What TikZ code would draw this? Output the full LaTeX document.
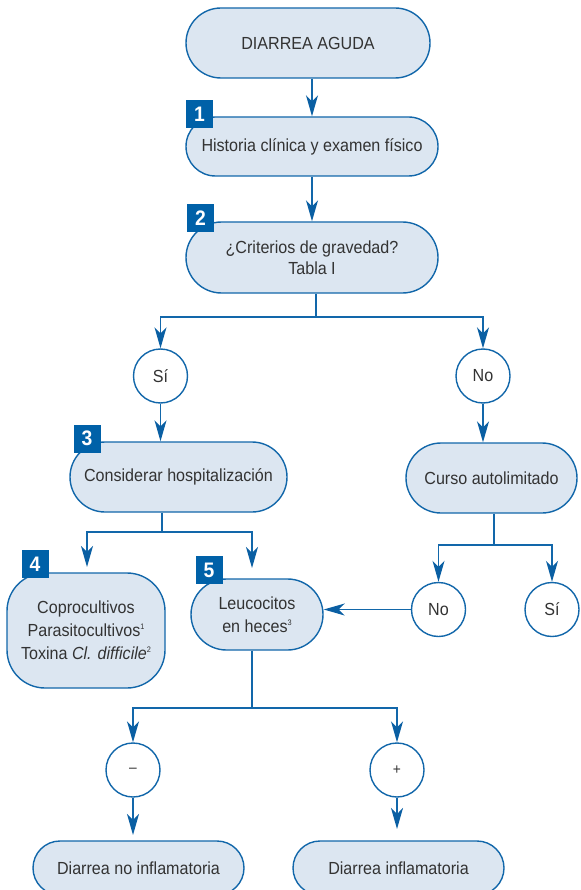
\documentclass[tikz,border=0pt]{standalone}
\usepackage{fontspec}
\setmainfont{Liberation Sans}[FakeStretch=0.92]
\usetikzlibrary{arrows.meta,calc}
\definecolor{lineblue}{HTML}{1267AA}
\definecolor{tipblue}{HTML}{0A5FA3}
\definecolor{boxfill}{HTML}{DCE6F1}
\definecolor{badgeblue}{HTML}{0061A8}
\definecolor{txt}{HTML}{333333}
\tikzset{
  conn/.style={draw=lineblue, line width=1.4pt},
  arr/.style={conn, -{Stealth[length=21pt,width=12pt,inset=6pt,fill=tipblue,color=tipblue]}},
  term/.style={draw=lineblue, line width=1.4pt, fill=boxfill, text=txt, align=center,
    font=\fontsize{17.5}{21}\selectfont, inner sep=0pt},
  decision/.style={circle, draw=lineblue, line width=1.4pt, fill=white, text=txt,
    minimum size=54pt, inner sep=0pt, font=\fontsize{17.5}{21}\selectfont},
  badge/.style={fill=badgeblue, text=white, font=\fontsize{21}{21}\selectfont\bfseries,
    minimum width=27pt, minimum height=28pt, inner sep=0pt}
}
\begin{document}
\begin{tikzpicture}[x=1pt,y=-1pt]
\useasboundingbox (0,0) rectangle (580,890);
% boxes
\node[term, minimum width=244pt, minimum height=70pt, rounded corners=35pt] (d0) at (308,43) {DIARREA AGUDA};
\node[term, minimum width=252pt, minimum height=59pt, rounded corners=29.5pt] (b1) at (312,146.5) {Historia clínica y examen físico};
\node[term, minimum width=252pt, minimum height=71pt, rounded corners=35.5pt] (b2) at (312,257.5) {¿Criterios de gravedad?\\Tabla I};
\node[decision] (si1) at (160.5,376) {Sí};
\node[decision] (no1) at (483,376) {No};
\node[term, minimum width=217pt, minimum height=70pt, rounded corners=35pt] (b3) at (178.5,477) {Considerar hospitalización};
\node[term, minimum width=171pt, minimum height=70pt, rounded corners=35pt] (cu) at (491.5,478) {Curso autolimitado};
\node[term, minimum width=158pt, minimum height=115pt, rounded corners=38pt, font=\fontsize{17.5}{23}\selectfont] (b4) at (86,630.5)
  {Coprocultivos\\Parasitocultivos{\fontsize{8}{8}\selectfont\raisebox{7pt}{1}}\\Toxina \textit{Cl. difficile}{\fontsize{8}{8}\selectfont\raisebox{7pt}{2}}};
\node[term, minimum width=132pt, minimum height=71pt, rounded corners=35.5pt, font=\fontsize{17.5}{23}\selectfont] (b5) at (257,614.5)
  {Leucocitos\\en heces{\fontsize{8}{8}\selectfont\raisebox{7pt}{3}}};
\node[decision] (no2) at (438.5,609.5) {No};
\node[decision] (si2) at (552,609.5) {Sí};
\node[decision, font=\fontsize{15}{15}\selectfont] (neg) at (133,770) {–};
\node[decision, font=\fontsize{15}{15}\selectfont] (pos) at (397,770) {+};
\node[term, minimum width=211pt, minimum height=54pt, rounded corners=27pt] (dn) at (138.5,868) {Diarrea no inflamatoria};
\node[term, minimum width=211pt, minimum height=54pt, rounded corners=27pt] (di) at (398.5,868) {Diarrea inflamatoria};
% badges
\node[badge] (n1) at (199.5,114.5) {1};
\node[badge] (n2) at (200.5,218) {2};
\node[badge] (n3) at (87,438.5) {3};
\node[badge] (n4) at (35,564) {4};
\node[badge] (n5) at (209,570) {5};
% junction coordinates
\coordinate (j2) at ($(b2.south)+(4,0)$);
\coordinate (h2) at (0,317);
\coordinate (j3) at (162,0);
\coordinate (h3) at (0,532);
\coordinate (jc) at (494,0);
\coordinate (hc) at (0,545);
\coordinate (j5) at (252,0);
\coordinate (h5) at (0,708);
\coordinate (t4) at (87,567);
\coordinate (t5) at (252,568);
\coordinate (tdn) at (133,835);
\coordinate (tdi) at (397,829);
% connectors
\draw[arr] (b1.north |- d0.south) -- (b1.north);
\draw[arr] (b1.south) -- (b2.north);
\draw[conn] (j2) -- (j2 |- h2);
\draw[arr] (j2 |- h2) -| (si1.north);
\draw[arr] (j2 |- h2) -| (no1.north);
\draw[arr] (si1.south) -- (si1.south |- b3.north);
\draw[arr] (no1.south) -- (no1.south |- cu.north);
\draw[conn] (j3 |- b3.south) -- (j3 |- h3);
\draw[arr] (j3 |- h3) -| (t4);
\draw[arr] (j3 |- h3) -| (t5);
\draw[conn] (jc |- cu.south) -- (jc |- hc);
\draw[arr] (jc |- hc) -| (no2.north);
\draw[arr] (jc |- hc) -| (si2.north);
\draw[arr] (no2.west) -- (no2.west -| b5.east);
\draw[conn] (j5 |- b5.south) -- (j5 |- h5);
\draw[arr] (j5 |- h5) -| (neg.north);
\draw[arr] (j5 |- h5) -| (pos.north);
\draw[arr] (neg.south) -- (tdn);
\draw[arr] (pos.south) -- (tdi);
\end{tikzpicture}
\end{document}
